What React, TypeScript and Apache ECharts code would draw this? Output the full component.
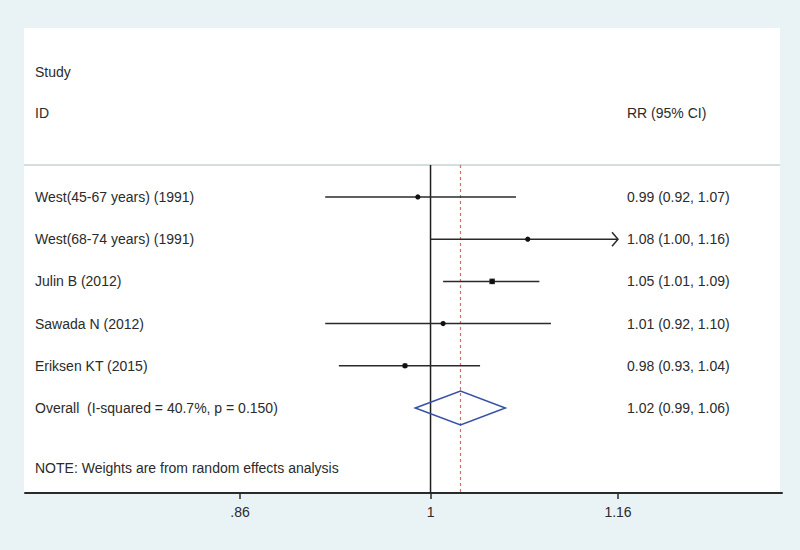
import React, { useEffect, useRef } from "react";
import * as echarts from "echarts";

const studies = [
  "West(45-67 years) (1991)",
  "West(68-74 years) (1991)",
  "Julin B (2012)",
  "Sawada N (2012)",
  "Eriksen KT (2015)",
];
const rr = [0.99, 1.08, 1.05, 1.01, 0.98];
const ciLow = [0.92, 1.0, 1.01, 0.92, 0.93];
const ciHigh = [1.07, 1.16, 1.09, 1.1, 1.04];
const weights = [13.5, 12.0, 38.5, 9.5, 26.5];

const pooled = 1.024;
const pooledLow = 0.988;
const pooledHigh = 1.061;
const nullValue = 1;
const iSquared = 40.7;
const pHet = 0.15;

const xTicks = [0.86, 1, 1.16];
const noteText = "NOTE: Weights are from random effects analysis";

const FONT = "14px 'Liberation Sans', Arial, sans-serif";
const TEXT_COLOR = "#2b2b2b";

const fmt = (v: number) => v.toFixed(2);
const tickFmt = (v: number) => {
  const s = String(Math.round(v * 100) / 100);
  return s.startsWith("0.") ? s.slice(1) : s;
};

export default function App() {
  const ref = useRef<HTMLDivElement>(null);
  useEffect(() => {
    if (!ref.current) return;
    const chart = echarts.init(ref.current, null, { renderer: "svg" });
    const xMax = xTicks[xTicks.length - 1];

    const studyData = studies.map((s, i) => [i, rr[i], ciLow[i], ciHigh[i], weights[i]]);

    const textEl = (text: string, x: number, y: number) => ({
      type: "text",
      x,
      y,
      style: {
        text,
        fill: TEXT_COLOR,
        font: FONT,
        align: "left",
        verticalAlign: "middle",
        textAlign: "left",
        textVerticalAlign: "middle",
      },
    });

    const option: any = {
      animation: false,
      backgroundColor: "#e9f2f5",
      grid: { left: 25, right: 18, top: 165, bottom: 57, containLabel: false },
      xAxis: [
        {
          type: "log",
          logBase: Math.E,
          min: 0.7254,
          max: 1.3208,
          axisLine: { show: true, onZero: false, lineStyle: { color: "#2a2a2a", width: 2 } },
          axisTick: {
            show: true,
            customValues: xTicks,
            length: 6,
            lineStyle: { color: "#2a2a2a", width: 1.5 },
          },
          axisLabel: {
            show: true,
            customValues: xTicks,
            formatter: (v: number) => tickFmt(v),
            color: TEXT_COLOR,
            fontFamily: "'Liberation Sans', Arial, sans-serif",
            fontSize: 14,
            margin: 12,
          },
          splitLine: { show: false },
        },
      ],
      yAxis: {
        type: "value",
        inverse: true,
        min: -0.758,
        max: 7.015,
        show: false,
      },
      graphic: [
        {
          type: "rect",
          z: -10,
          shape: { x: 24, y: 28, width: 756, height: 465 },
          style: { fill: "#ffffff" },
          silent: true,
        },
        {
          type: "line",
          z: -5,
          shape: { x1: 24, y1: 165, x2: 780, y2: 165 },
          style: { stroke: "#c9d2d6", lineWidth: 1.5 },
          silent: true,
        },
        {
          type: "text",
          x: 35,
          y: 72,
          style: { text: "Study", fill: TEXT_COLOR, font: FONT, textVerticalAlign: "middle" },
        },
        {
          type: "text",
          x: 35,
          y: 113,
          style: { text: "ID", fill: TEXT_COLOR, font: FONT, textVerticalAlign: "middle" },
        },
        {
          type: "text",
          x: 627,
          y: 113,
          style: { text: "RR (95% CI)", fill: TEXT_COLOR, font: FONT, textVerticalAlign: "middle" },
        },
        {
          type: "text",
          x: 35,
          y: 468,
          style: { text: noteText, fill: TEXT_COLOR, font: FONT, textVerticalAlign: "middle" },
        },
      ],
      series: [
        {
          type: "custom",
          name: "reference lines",
          data: [[nullValue, pooled]],
          encode: { x: [0, 1] },
          clip: false,
          renderItem: (params: any, api: any) => {
            const cs = params.coordSys;
            const xNull = api.coord([api.value(0), 0])[0];
            const xPool = api.coord([api.value(1), 0])[0];
            return {
              type: "group",
              children: [
                {
                  type: "line",
                  shape: { x1: xNull, y1: cs.y, x2: xNull, y2: cs.y + cs.height },
                  style: { stroke: "#1e1e1e", lineWidth: 1.5 },
                },
                {
                  type: "line",
                  shape: { x1: xPool, y1: cs.y, x2: xPool, y2: cs.y + cs.height },
                  style: { stroke: "#cc6f6f", lineWidth: 1.2, lineDash: [3, 3] },
                },
              ],
            };
          },
          z: 2,
        },
        {
          type: "custom",
          name: "studies",
          data: studyData,
          encode: { x: [1, 2, 3], y: 0 },
          clip: false,
          renderItem: (params: any, api: any) => {
            const row = api.value(0);
            const est = api.value(1);
            const lo = api.value(2);
            const hi = api.value(3);
            const w = api.value(4);
            const idx = params.dataIndex;
            const pLo = api.coord([lo, row]);
            const pHi = api.coord([Math.min(hi, xMax), row]);
            const pEst = api.coord([est, row]);
            const cs = params.coordSys;
            const side = Math.sqrt(w) * 0.9;
            const children: any[] = [
              {
                type: "line",
                shape: { x1: pLo[0], y1: pLo[1], x2: pHi[0], y2: pHi[1] },
                style: { stroke: "#2a2a2a", lineWidth: 1.5 },
              },
              {
                type: "rect",
                shape: { x: pEst[0] - side / 2, y: pEst[1] - side / 2, width: side, height: side },
                style: { fill: "#3a3a3a" },
              },
              {
                type: "circle",
                shape: { cx: pEst[0], cy: pEst[1], r: 2.6 },
                style: { fill: "#111111" },
              },
              textEl(studies[idx], cs.x + 10, pEst[1]),
              textEl(`${fmt(est)} (${fmt(lo)}, ${fmt(hi)})`, cs.x + 602, pEst[1]),
            ];
            if (hi >= xMax) {
              children.push({
                type: "polyline",
                shape: {
                  points: [
                    [pHi[0] - 6, pHi[1] - 7],
                    [pHi[0], pHi[1]],
                    [pHi[0] - 6, pHi[1] + 7],
                  ],
                },
                style: { stroke: "#2a2a2a", lineWidth: 1.5, fill: "none" },
              });
            }
            return { type: "group", children };
          },
          z: 3,
        },
        {
          type: "custom",
          name: "overall",
          data: [[studies.length, pooled, pooledLow, pooledHigh]],
          encode: { x: [1, 2, 3], y: 0 },
          clip: false,
          renderItem: (params: any, api: any) => {
            const row = api.value(0);
            const est = api.value(1);
            const lo = api.value(2);
            const hi = api.value(3);
            const cs = params.coordSys;
            const c = api.coord([est, row]);
            const l = api.coord([lo, row]);
            const r = api.coord([hi, row]);
            const top = api.coord([est, row - 0.4]);
            const bot = api.coord([est, row + 0.4]);
            return {
              type: "group",
              children: [
                {
                  type: "polygon",
                  shape: { points: [[l[0], l[1]], [top[0], top[1]], [r[0], r[1]], [bot[0], bot[1]]] },
                  style: { fill: "none", stroke: "#3650a6", lineWidth: 1.5 },
                },
                textEl(`Overall  (I-squared = ${iSquared.toFixed(1)}%, p = ${pHet.toFixed(3)})`, cs.x + 10, c[1]),
                textEl(`${fmt(est)} (${fmt(lo)}, ${fmt(hi)})`, cs.x + 602, c[1]),
              ],
            };
          },
          z: 4,
        },
      ],
    };
    chart.setOption(option);
    return () => chart.dispose();
  }, []);
  return <div ref={ref} style={{ width: 800, height: 550, position: "absolute", left: 0, top: 0 }} />;
}
